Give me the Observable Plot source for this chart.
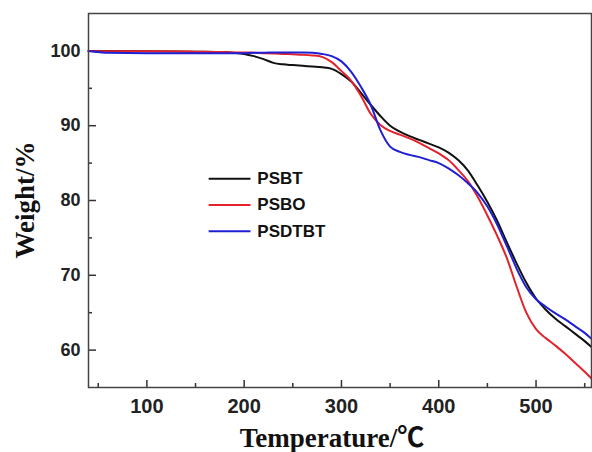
<!DOCTYPE html>
<html>
<head>
<meta charset="utf-8">
<script src="https://cdn.jsdelivr.net/npm/d3@7"></script>
<script src="https://cdn.jsdelivr.net/npm/@observablehq/plot@0.6"></script>
<style>
  html, body { margin: 0; padding: 0; background: #fff; }
  #chart { width: 592px; height: 452px; position: relative; }
</style>
</head>
<body>
<div id="chart"></div>
<script>
// Temperature (°C)
const temps = [40, 60, 100, 150, 180, 190, 200, 210, 220, 230, 240, 250, 260, 270, 280, 290, 300, 310, 320, 330, 340, 350, 360, 370, 380, 390, 400, 410, 420, 430, 440, 450, 460, 470, 480, 490, 500, 510, 520, 530, 540, 550, 557];
// Weight (%)
const psbt   = [100, 99.97, 99.95, 99.9, 99.85, 99.75, 99.6, 99.3, 98.9, 98.4, 98.2, 98.1, 98.0, 97.9, 97.8, 97.6, 96.9, 95.9, 94.4, 92.8, 91.3, 90.0, 89.2, 88.6, 88.1, 87.6, 87.1, 86.4, 85.4, 84.0, 82.0, 79.8, 77.3, 74.4, 71.6, 69.0, 66.9, 65.4, 64.2, 63.2, 62.2, 61.2, 60.4];
const psbo   = [100, 99.95, 99.95, 99.9, 99.85, 99.8, 99.8, 99.75, 99.7, 99.65, 99.6, 99.55, 99.5, 99.4, 99.2, 98.5, 97.3, 96.0, 94.0, 91.6, 90.1, 89.3, 88.8, 88.3, 87.7, 87.0, 86.3, 85.4, 84.1, 82.6, 80.5, 78.0, 75.3, 72.3, 68.5, 65.0, 62.8, 61.6, 60.6, 59.5, 58.3, 57.1, 56.2];
const psdtbt = [100, 99.75, 99.7, 99.7, 99.7, 99.7, 99.7, 99.75, 99.75, 99.8, 99.8, 99.8, 99.8, 99.75, 99.6, 99.3, 98.6, 97.2, 95.2, 92.8, 89.4, 87.2, 86.5, 86.1, 85.8, 85.4, 85.0, 84.3, 83.4, 82.3, 81.0, 79.2, 76.8, 73.9, 70.9, 68.4, 66.8, 65.8, 64.9, 64.1, 63.2, 62.3, 61.5];

const seriesNames = ["PSBT", "PSBO", "PSDTBT"];
const seriesValues = [psbt, psbo, psdtbt];
const seriesColors = ["#111111", "#e3232b", "#1f1fd6"];

const xMajor = [100, 200, 300, 400, 500];
const xMinor = [50, 150, 250, 350, 450, 550];
const yMajor = [60, 70, 80, 90, 100];
const yMinor = [65, 75, 85, 95];

const xTitle = "Temperature/℃";
const yTitle = "Weight/%";

// legend placement (data units) 
const legendX1 = 163.5, legendX2 = 206.5, legendTextX = 213.5;
const legendY0 = 82.9, legendStep = 3.5;

const rows = [];
seriesNames.forEach((name, s) => {
  temps.forEach((t, i) => rows.push({series: name, t, w: seriesValues[s][i]}));
});
const legendRows = seriesNames.map((name, i) => ({series: name, y: legendY0 - i * legendStep}));

const W = 592, H = 452;
const mL = 88, mR = 1, mT = 13, mB = 65;
const innerW = W - mL - mR, innerH = H - mT - mB;

const sansBold = "'Liberation Sans', Arial, Helvetica, sans-serif";
const serifBold = "'Liberation Serif', 'Times New Roman', 'Noto Sans CJK SC', serif";

const chart = Plot.plot({
  width: W,
  height: H,
  marginLeft: mL,
  marginRight: mR,
  marginTop: mT,
  marginBottom: mB,
  style: {background: "#fff", overflow: "visible"},
  x: {domain: [40, 557], label: null},
  y: {domain: [55, 105], label: null},
  color: {domain: seriesNames, range: seriesColors},
  marks: [
    // tick marks (inward)
    Plot.ruleX(xMajor, {x: d => d, insetTop: innerH - 7, stroke: "#333", strokeWidth: 1.5}),
    Plot.ruleX(xMinor, {x: d => d, insetTop: innerH - 4, stroke: "#333", strokeWidth: 1.5}),
    Plot.ruleY(yMajor, {y: d => d, insetRight: innerW - 8, stroke: "#333", strokeWidth: 1.5}),
    Plot.ruleY(yMinor, {y: d => d, insetRight: innerW - 4, stroke: "#333", strokeWidth: 1.5}),
    // tick labels
    Plot.axisX({ticks: xMajor, tickSize: 0, tickPadding: 11, tickFormat: d => d, fontSize: 20, fontWeight: "bold", fontFamily: sansBold, fill: "#222", label: null}),
    Plot.axisY({ticks: yMajor, tickSize: 0, tickPadding: 8, tickFormat: d => d, fontSize: 18, fontWeight: "bold", fontFamily: sansBold, fill: "#222", label: null}),
    // curves
    Plot.line(rows, {x: "t", y: "w", z: "series", stroke: "series", strokeWidth: 2, curve: "monotone-x"}),
    // legend
    Plot.link(legendRows, {x1: () => legendX1, x2: () => legendX2, y1: "y", y2: "y", stroke: "series", strokeWidth: 2}),
    Plot.text(legendRows, {x: () => legendTextX, y: "y", text: "series", textAnchor: "start", fontSize: 17, fontWeight: "bold", fontFamily: sansBold, fill: "#111"}),
    // frame
    Plot.frame({stroke: "#444", strokeWidth: 1.5})
  ]
});

// axis titles
const svg = d3.select(chart);
svg.append("text")
  .attr("x", 332).attr("y", 447)
  .attr("text-anchor", "middle")
  .attr("font-family", serifBold)
  .attr("font-weight", "bold")
  .attr("font-size", 27)
  .attr("fill", "#111")
  .text(xTitle);
svg.append("text")
  .attr("transform", "translate(34,200) rotate(-90)")
  .attr("text-anchor", "middle")
  .attr("font-family", serifBold)
  .attr("font-weight", "bold")
  .attr("font-size", 27)
  .attr("fill", "#111")
  .text(yTitle);

document.getElementById("chart").appendChild(chart);
</script>
</body>
</html>
